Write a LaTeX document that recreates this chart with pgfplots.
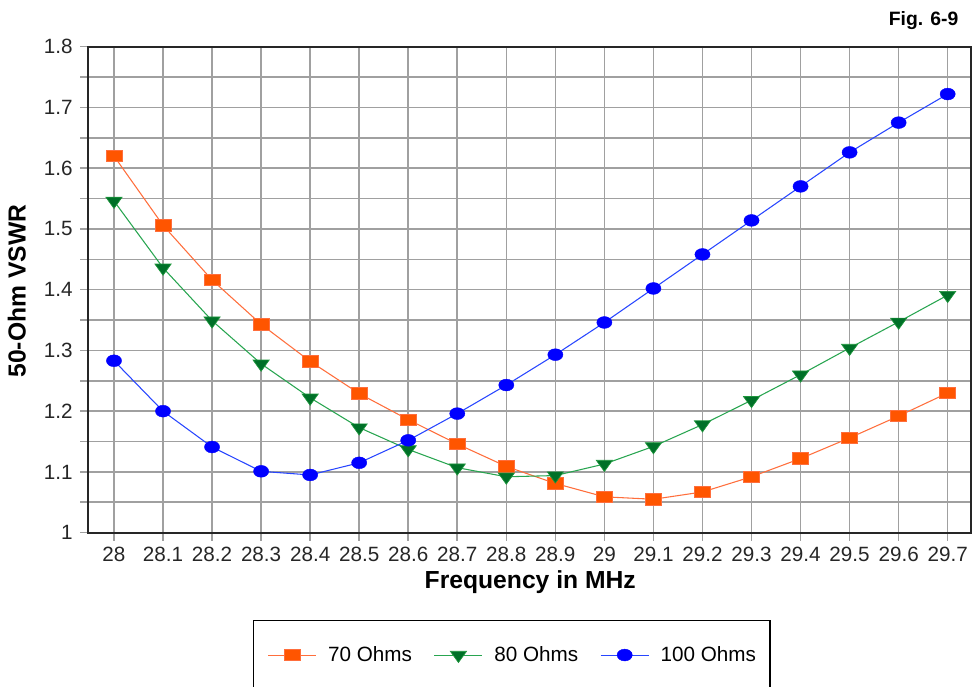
\documentclass[border=0pt]{standalone}
\usepackage{pgfplots}
\pgfplotsset{compat=1.18}
\usepackage{fontspec}
\setmainfont{Liberation Sans}
\definecolor{orM}{RGB}{255,85,0}
\definecolor{orL}{RGB}{255,110,60}
\definecolor{grM}{RGB}{0,112,40}
\definecolor{grE}{RGB}{30,150,60}
\definecolor{grL}{RGB}{40,165,80}
\definecolor{blM}{RGB}{0,0,255}
\definecolor{blL}{RGB}{40,70,255}
\definecolor{gridc}{RGB}{160,160,160}
\begin{document}
\begin{tikzpicture}
\useasboundingbox (0,0) rectangle (729.75pt,514.5pt);
\begin{axis}[
  at={(66pt,115pt)}, anchor=south west,
  scale only axis, width=662pt, height=364.5pt,
  xmin=-0.53, xmax=17.469, ymin=1, ymax=1.8,
  xtick={0,...,17},
  xticklabels={28,28.1,28.2,28.3,28.4,28.5,28.6,28.7,28.8,28.9,29,29.1,29.2,29.3,29.4,29.5,29.6,29.7},
  ytick={1,1.1,1.2,1.3,1.4,1.5,1.6,1.7,1.8},
  yticklabels={1,1.1,1.2,1.3,1.4,1.5,1.6,1.7,1.8},
  minor y tick num=1,
  grid=both,
  major grid style={gridc, line width=1.2pt},
  minor grid style={gridc, line width=1.2pt},
  tick align=outside, tick pos=left,
  major tick length=6pt, minor tick length=6pt,
  every tick/.style={gridc, line width=1.2pt},
  axis line style={black!85, line width=1.4pt},
  tick label style={font=\fontsize{15.5}{18}\selectfont, text=black!85},
  xticklabel style={yshift=-1pt},
  yticklabel style={xshift=-2pt},
  xlabel={\bfseries Frequency in MHz},
  ylabel={\bfseries 50-Ohm VSWR},
  label style={font=\fontsize{18.5}{22}\selectfont},
  xlabel style={at={(axis description cs:0.501,-0.1144)}, anchor=base},
  ylabel style={at={(axis description cs:-0.0808,0.497)}, anchor=center},
  legend columns=3,
  legend image code/.code={\draw[mark repeat=2,mark phase=2,#1] plot coordinates {(0pt,0pt) (18pt,0pt) (36pt,0pt)};},
  legend style={at={(axis description cs:0.187,-0.1796)}, anchor=north west,
    draw=black, line width=0.9pt, inner xsep=10.5pt, inner ysep=19.5pt,
    font=\fontsize{15.5}{18}\selectfont,
    nodes={inner sep=0pt},
    /tikz/every odd column/.append style={column sep=8.5pt},
    /tikz/every even column/.append style={column sep=16.5pt}},
  legend cell align=left,
  clip=false,
]
\addplot[orL, line width=0.8pt, mark=square*, mark size=6pt,
  mark options={fill=orM, draw=orL, line width=0.5pt, yscale=0.72}]
  coordinates {(0,1.620) (1,1.506) (2,1.416) (3,1.343) (4,1.282) (5,1.229) (6,1.186) (7,1.146) (8,1.109) (9,1.081) (10,1.059) (11,1.055) (12,1.067) (13,1.092) (14,1.122) (15,1.156) (16,1.192) (17,1.230)};
\addlegendentry{70 Ohms}
\addplot[grL, line width=0.8pt, mark=triangle*, mark size=7pt,
  mark options={fill=grM, draw=grE, line width=0.5pt, rotate=180, yscale=0.8}]
  coordinates {(0,1.546) (1,1.436) (2,1.349) (3,1.278) (4,1.222) (5,1.173) (6,1.137) (7,1.107) (8,1.092) (9,1.094) (10,1.113) (11,1.142) (12,1.178) (13,1.218) (14,1.260) (15,1.304) (16,1.347) (17,1.391)};
\addlegendentry{80 Ohms}
\addplot[blL, line width=0.8pt, mark=*, mark size=5.7pt,
  mark options={fill=blM, draw=blM, line width=0.3pt, yscale=0.78}]
  coordinates {(0,1.283) (1,1.200) (2,1.141) (3,1.101) (4,1.095) (5,1.115) (6,1.152) (7,1.196) (8,1.243) (9,1.293) (10,1.346) (11,1.402) (12,1.458) (13,1.514) (14,1.570) (15,1.626) (16,1.675) (17,1.722)};
\addlegendentry{100 Ohms}
\node[anchor=base east, font=\bfseries\fontsize{14.5}{17}\selectfont] at (axis description cs:0.9913,1.0426) {Fig. 6-9};
\end{axis}
\end{tikzpicture}
\end{document}
